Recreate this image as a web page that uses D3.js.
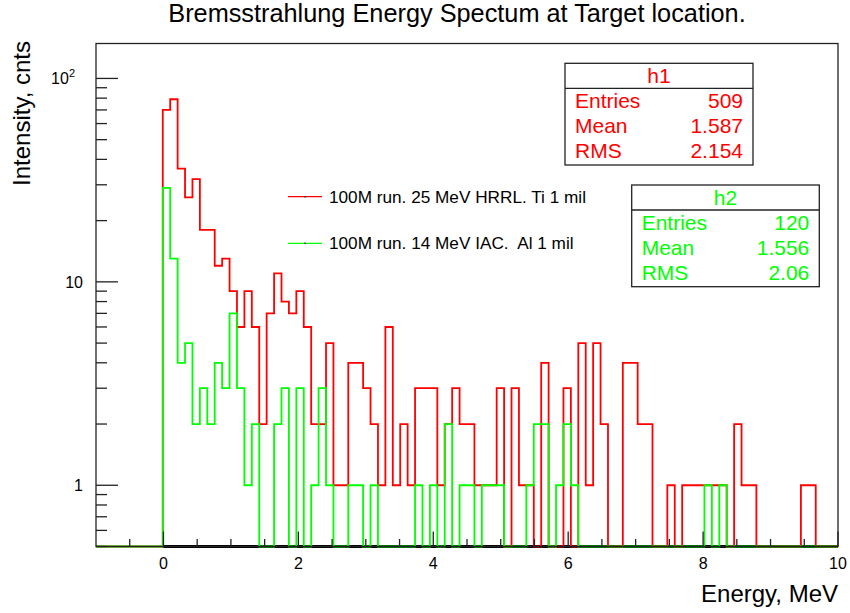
<!DOCTYPE html>
<html>
<head>
<meta charset="utf-8">
<script src="https://cdn.jsdelivr.net/npm/d3@7"></script>
<style>
  html, body { margin: 0; padding: 0; background: #fff; }
  svg { display: block; font-family: "Liberation Sans", Arial, Helvetica, sans-serif; }
</style>
</head>
<body>
<svg id="chart" width="850" height="613"></svg>
<script>
// ---------------- DATA ----------------
const title = "Bremsstrahlung Energy Spectum at Target location.";
const xTitle = "Energy, MeV";
const yTitle = "Intensity, cnts";
const xRange = [-1, 10];          // histogram axis range (100 bins)
const nBins = 100;
const yRange = [0.5, 148.5];
const xMajorTicks = [0, 2, 4, 6, 8, 10];
const yMajorTicks = [1, 10, 100];
const yMajorLabels = [["1", ""], ["10", ""], ["10", "2"]];

// h1 : 100M run. 25 MeV HRRL. Ti 1 mil  (red)
const h1Counts = [
  0,0,0,0,0,0,0,0,0,70,
  79,36,26,32,18,18,12,13,9,6,
  9,6,2,7,11,8,7,9,6,2,
  2,5,1,1,4,4,3,2,1,6,
  1,2,1,3,3,3,1,2,3,2,
  2,1,1,1,3,0,3,1,1,0,
  4,0,0,3,0,5,1,5,2,0,
  0,4,4,2,2,0,0,1,0,1,
  1,1,1,1,1,0,2,1,1,0,
  0,0,0,0,0,1,1,0,0,0
];
// h2 : 100M run. 14 MeV IAC.  Al 1 mil  (green)
const h2Counts = [
  0,0,0,0,0,0,0,0,0,29,
  13,4,5,2,3,2,4,3,7,3,
  1,2,0,0,2,3,0,3,0,1,
  3,1,0,0,1,1,0,1,0,0,
  0,0,0,1,0,1,0,2,0,1,
  1,0,1,1,1,0,0,0,1,2,
  2,0,1,2,1,0,0,0,0,0,
  0,0,0,0,0,0,0,0,0,0,
  0,0,1,0,1,0,0,0,0,0,
  0,0,0,0,0,0,0,0,0,0
];
const legendLabels = ["100M run. 25 MeV HRRL. Ti 1 mil", "100M run. 14 MeV IAC.  Al 1 mil"];
const statNames = ["Entries", "Mean", "RMS"];
const h1Stats = ["509", "1.587", "2.154"];
const h2Stats = ["120", "1.556", "2.06"];
const histNames = ["h1", "h2"];
const colors = ["#ff0000", "#00ff00"];

// ---------------- LAYOUT ----------------
const svg = d3.select("#chart");
const frame = { left: 96, right: 838, top: 43.5, bottom: 546.5 };
const x = d3.scaleLinear().domain(xRange).range([frame.left, frame.right]);
const y = d3.scaleLog().domain(yRange).range([frame.bottom, frame.top]).clamp(true);
const binW = (xRange[1] - xRange[0]) / nBins;

// title
svg.append("text").attr("x", 457).attr("y", 22).attr("text-anchor", "middle")
  .attr("font-size", 25.3).attr("fill", "#000").text(title);

// bottom thick axis line (starts at first filled bin edge)
svg.append("line").attr("x1", x(xRange[0] + 9 * binW)).attr("x2", frame.right)
  .attr("y1", frame.bottom).attr("y2", frame.bottom)
  .attr("stroke", "#000").attr("stroke-width", 3);

// histogram step path
function histPath(counts) {
  let p = `M${x(xRange[0])},${y(yRange[0])}`;
  counts.forEach((c, i) => {
    const x0 = x(xRange[0] + i * binW), x1 = x(xRange[0] + (i + 1) * binW);
    const yy = c > 0 ? y(c) : y(yRange[0]);
    p += `L${x0},${yy}L${x1},${yy}`;
  });
  p += `L${x(xRange[1])},${y(yRange[0])}`;
  return p;
}
[h1Counts, h2Counts].forEach((counts, k) => {
  svg.append("path").attr("d", histPath(counts)).attr("fill", "none")
    .attr("stroke", colors[k]).attr("stroke-width", 1.8).attr("stroke-linejoin", "miter");
});

// frame
svg.append("rect").attr("x", frame.left).attr("y", frame.top)
  .attr("width", frame.right - frame.left).attr("height", frame.bottom - frame.top)
  .attr("fill", "none").attr("stroke", "#222").attr("stroke-width", 1.3);

// x ticks
const g = svg.append("g").attr("stroke", "#222").attr("stroke-width", 1.3);
d3.range(-0.5, 10.001, 0.5).forEach(v => {
  const major = xMajorTicks.some(t => Math.abs(t - v) < 1e-6);
  g.append("line").attr("x1", x(v)).attr("x2", x(v))
    .attr("y1", frame.bottom).attr("y2", frame.bottom - (major ? 15 : 7.5));
});
xMajorTicks.forEach(v => {
  svg.append("text").attr("x", x(v)).attr("y", 569).attr("text-anchor", "middle")
    .attr("font-size", 16).attr("fill", "#000").text(v);
});

// y ticks
const yMinor = [];
[0.1, 1, 10, 100].forEach(d => { for (let m = 1; m <= 9; m++) yMinor.push(d * m); });
yMinor.filter(v => v >= yRange[0] && v <= yRange[1]).forEach(v => {
  const major = yMajorTicks.some(t => Math.abs(t - v) < 1e-6);
  g.append("line").attr("x1", frame.left).attr("x2", frame.left + (major ? 22 : 11))
    .attr("y1", y(v)).attr("y2", y(v));
});
yMajorTicks.forEach((v, i) => {
  const t = svg.append("text").attr("x", i === 2 ? 75 : 83).attr("y", y(v) + 6)
    .attr("text-anchor", "end").attr("font-size", 16).attr("fill", "#000");
  t.append("tspan").text(yMajorLabels[i][0]);
  if (yMajorLabels[i][1]) t.append("tspan").attr("dy", -7).attr("font-size", 11).text(yMajorLabels[i][1]);
});

// axis titles
svg.append("text").attr("x", 838).attr("y", 602).attr("text-anchor", "end")
  .attr("font-size", 24).attr("fill", "#000").text(xTitle);
svg.append("text").attr("transform", "translate(30,41) rotate(-90)").attr("text-anchor", "end")
  .attr("font-size", 24).attr("fill", "#000").text(yTitle);

// legend
const legY = [196.7, 243.3];
legendLabels.forEach((lab, i) => {
  svg.append("line").attr("x1", 288).attr("x2", 322).attr("y1", legY[i]).attr("y2", legY[i])
    .attr("stroke", colors[i]).attr("stroke-width", 1.3);
  svg.append("rect").attr("x", 304.3).attr("y", legY[i] - 0.7).attr("width", 1.4).attr("height", 1.4).attr("fill", "#000");
  svg.append("text").attr("x", 329).attr("y", legY[i] + 6).attr("font-size", 17.2)
    .attr("fill", "#000").style("white-space", "pre").text(lab);
});

// stat boxes
const boxes = [
  { x0: 565, x1: 753, y0: 63.3, sep: 88.3, y1: 165, stats: h1Stats },
  { x0: 631.7, x1: 819.3, y0: 185, sep: 210, y1: 286.7, stats: h2Stats }
];
boxes.forEach((b, i) => {
  svg.append("rect").attr("x", b.x0).attr("y", b.y0).attr("width", b.x1 - b.x0).attr("height", b.y1 - b.y0)
    .attr("fill", "#fff").attr("stroke", "#222").attr("stroke-width", 1.3);
  svg.append("line").attr("x1", b.x0).attr("x2", b.x1).attr("y1", b.sep).attr("y2", b.sep)
    .attr("stroke", "#222").attr("stroke-width", 1.3);
  svg.append("text").attr("x", (b.x0 + b.x1) / 2).attr("y", b.sep - 5).attr("text-anchor", "middle")
    .attr("font-size", 21).attr("fill", colors[i]).text(histNames[i]);
  statNames.forEach((s, j) => {
    const by = b.sep + 20 + j * 25;
    svg.append("text").attr("x", b.x0 + 10).attr("y", by).attr("font-size", 21)
      .attr("fill", colors[i]).text(s);
    svg.append("text").attr("x", b.x1 - 10).attr("y", by).attr("text-anchor", "end").attr("font-size", 21)
      .attr("fill", colors[i]).text(b.stats[j]);
  });
});
</script>
</body>
</html>
